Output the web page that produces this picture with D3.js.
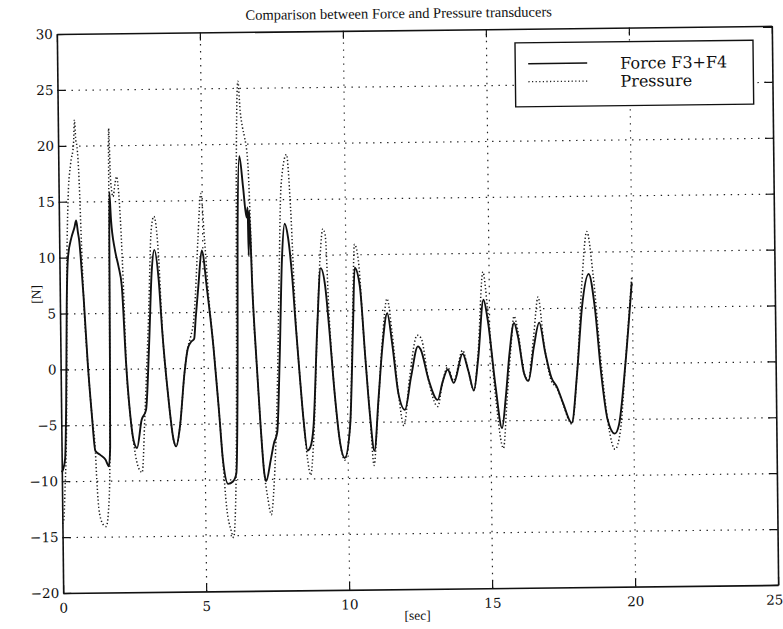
<!DOCTYPE html>
<html>
<head>
<meta charset="utf-8">
<script src="https://cdn.jsdelivr.net/npm/d3@7"></script>
<style>
  body { margin: 0; background: #fff; }
  svg { display: block; }
</style>
</head>
<body>
<div id="canvas"></div>
<script>
// tick values
var xTicks = [0, 5, 10, 15, 20, 25];
var yTicks = [-20, -15, -10, -5, 0, 5, 10, 15, 20, 25, 30];

// Force F3+F4 (solid)
var forceT = [0.00,0.05,0.12,0.18,0.24,0.30,0.43,0.54,0.60,0.66,0.70,0.74,0.83,0.95,1.07,1.18,1.36,1.53,1.65,1.70,1.74,1.77,1.82,1.94,2.06,2.17,2.29,2.41,2.52,2.64,2.81,2.97,3.10,3.22,3.32,3.46,3.57,3.75,3.92,4.01,4.15,4.33,4.45,4.56,4.68,4.74,4.85,4.98,5.15,5.35,5.52,5.64,5.81,5.98,6.10,6.19,6.24,6.33,6.45,6.56,6.60,6.62,6.65,6.74,6.85,6.97,7.08,7.14,7.31,7.43,7.55,7.66,7.78,7.89,8.00,8.13,8.24,8.36,8.47,8.60,8.70,8.82,8.99,9.13,9.28,9.40,9.57,9.74,9.90,10.10,10.24,10.32,10.49,10.66,10.80,10.94,11.10,11.25,11.44,11.60,11.80,12.02,12.25,12.50,12.60,12.85,13.17,13.35,13.53,13.74,14.06,14.25,14.44,14.60,14.81,14.95,15.20,15.41,15.55,15.70,15.87,16.00,16.20,16.35,16.55,16.75,16.95,17.15,17.35,17.55,17.85,18.05,18.25,18.50,18.70,18.90,19.10,19.35,19.50,19.75,20.00];
var forceN = [-9.2,-8.9,-8,-3,6,10,11.8,12.7,13.3,12.2,11.5,10.2,6.5,0.5,-4,-7.3,-7.7,-8.1,-8.7,-7,6,15.8,13.3,10.7,9.2,7.4,0.5,-4,-6.4,-7.1,-4.6,-3.7,2,8.6,10.6,8,3.2,-2.5,-6.4,-7,-5.2,-0.4,1.7,2.3,2.6,4.4,7.4,10.5,7,1.9,-3.9,-8.3,-10.4,-10.2,-9.5,0.6,12,18.9,16.1,13.4,14.3,10,14,6.6,0.6,-5.3,-9.5,-10.2,-8.3,-6.8,-5.8,0.6,9.6,12.8,11.6,8.1,3.6,-0.9,-4.7,-7.5,-7.2,-5.3,3.6,8.8,7.2,3.6,-2.4,-6.8,-8.2,-5.3,3.6,8.8,7.2,0.6,-4.5,-7.6,-3,1.5,4.7,2,-2.5,-3.95,-1,1.7,1.4,-1.2,-3.1,-1.5,-0.4,-1.6,1.0,-0.5,-2.3,0.5,5.8,4,-2,-5.7,-3,1,3.7,2.5,-0.8,-1.5,1.5,3.7,1,-1.2,-2.1,-3.5,-5.3,-1,5,8.0,5,-1,-5,-6.3,-5.5,0,7.2];

// Pressure (dotted)
var pressT = [0.00,0.05,0.10,0.19,0.25,0.33,0.43,0.54,0.58,0.62,0.66,0.72,0.78,0.83,0.95,1.07,1.18,1.22,1.30,1.45,1.53,1.65,1.71,1.74,1.77,1.82,1.90,1.97,2.03,2.12,2.22,2.29,2.41,2.52,2.65,2.81,2.93,3.10,3.22,3.32,3.46,3.57,3.75,3.92,4.01,4.15,4.33,4.45,4.56,4.68,4.74,4.85,4.97,5.08,5.20,5.35,5.52,5.64,5.75,5.90,5.98,6.08,6.15,6.22,6.31,6.38,6.45,6.52,6.62,6.68,6.74,6.85,6.97,7.08,7.18,7.31,7.40,7.50,7.58,7.66,7.78,7.98,8.10,8.24,8.36,8.47,8.60,8.70,8.82,8.99,9.12,9.22,9.30,9.40,9.57,9.74,9.90,10.10,10.24,10.32,10.45,10.60,10.80,10.92,11.05,11.25,11.44,11.60,11.80,11.98,12.20,12.48,12.62,12.85,13.17,13.35,13.53,13.74,14.06,14.25,14.44,14.60,14.80,14.95,15.20,15.45,15.60,15.75,15.87,16.00,16.20,16.35,16.55,16.72,16.90,17.15,17.35,17.55,17.85,18.05,18.25,18.45,18.65,18.90,19.10,19.35,19.55,19.75,20.00];
var pressN = [-13.8,-13.5,-11,-4,8,15.4,18.4,20.2,22.3,20.5,19.9,16.9,10.9,6.5,0.5,-4,-7.3,-9.9,-12.9,-14,-14.1,-11.4,-2.8,9,21.5,16.9,15.4,16.5,17.2,14.8,8,0.8,-4,-6.6,-8.6,-9.3,-4,5,12.4,13.6,10.4,3.5,-2.5,-6.4,-7,-5.2,-0.4,1.8,2.8,4.5,6.5,11.5,15.6,11.5,6.5,1.9,-3.9,-8.5,-12.5,-14.6,-15.2,-11,0,17.7,25.6,22.9,21.5,20.6,18.5,14,6.8,0.6,-5.3,-9.5,-11.5,-13.2,-11.2,-6.5,-1,6.6,16.3,19,14.3,4,-0.9,-4.7,-8.3,-9.7,-6.5,3.6,10,12.3,11.8,5,-2.4,-6.8,-8.4,-5.3,5.5,10.9,9.5,3,-4.5,-8.9,-5,2,6,3,-2.5,-5.4,-1,2.7,2.4,-1.2,-3.7,-1.5,-0.2,-1.4,1.3,-0.5,-2.3,1,8.3,5,-3,-7.5,-3,1.5,4.3,3,-0.8,-1.4,2.5,6.0,2,-1.5,-2.2,-3.6,-5.4,-1,7,11.8,8,0,-5,-7.7,-6,0,7.6];

var legendNames = ["Force F3+F4", "Pressure"];

var W = 783, H = 629;
var margin = {left: 60, right: 8, top: 30, bottom: 40};
var width = 775 - margin.left;
var height = 589 - margin.top;

var svg = d3.select("#canvas").append("svg")
  .attr("width", W)
  .attr("height", H);

// the scan is tilted a little
var root = svg.append("g")
  .attr("transform", "rotate(-0.65, 417.5, 309.5)");

var g = root.append("g")
  .attr("transform", "translate(" + margin.left + ", " + margin.top + ")");

var x = d3.scaleLinear().domain([0, 25]).range([0, width]);
var y = d3.scaleLinear().domain([-20, 30]).range([height, 0]);

// dotted grid
g.append("g")
  .attr("class", "grid")
  .attr("transform", "translate(0, " + height + ")")
  .call(d3.axisBottom(x).tickValues(xTicks.slice(1, -1)).tickSize(-height).tickFormat(""))
  .call(s => s.select(".domain").remove());
g.append("g")
  .attr("class", "grid")
  .call(d3.axisLeft(y).tickValues(yTicks.slice(1, -1)).tickSize(-width).tickFormat(""))
  .call(s => s.select(".domain").remove());
g.selectAll(".grid line")
  .attr("stroke", "#222")
  .attr("stroke-width", 1.2)
  .attr("stroke-dasharray", "1.4,5.6");

// series
var line = d3.line()
  .x((d) => { return x(d[0]); })
  .y((d) => { return y(d[1]); })
  .curve(d3.curveMonotoneX);

var pressData = pressT.map((t, i) => { return [t, pressN[i]]; });
var forceData = forceT.map((t, i) => { return [t, forceN[i]]; });

g.append("path")
  .attr("d", line(pressData))
  .attr("fill", "none")
  .attr("stroke", "#1a1a1a")
  .attr("stroke-width", 1.5)
  .attr("stroke-dasharray", "1.3,2.3");

g.append("path")
  .attr("d", line(forceData))
  .attr("fill", "none")
  .attr("stroke", "#111")
  .attr("stroke-width", 1.9);

// axes with inward ticks on all sides
var tickFont = "'DejaVu Serif', serif";
var bottomAxis = d3.axisBottom(x).tickValues(xTicks).tickSizeInner(-8).tickSizeOuter(0).tickPadding(12);
var leftAxis = d3.axisLeft(y).tickValues(yTicks).tickSizeInner(-8).tickSizeOuter(0).tickPadding(12);

g.append("g")
  .attr("class", "x axis")
  .attr("transform", "translate(0, " + height + ")")
  .call(bottomAxis);
g.append("g")
  .attr("class", "left axis")
  .call(leftAxis);
g.append("g")
  .attr("class", "top axis")
  .call(d3.axisTop(x).tickValues(xTicks).tickSizeInner(-8).tickSizeOuter(0).tickFormat(""));
g.append("g")
  .attr("class", "right axis")
  .attr("transform", "translate(" + width + ", 0)")
  .call(d3.axisRight(y).tickValues(yTicks).tickSizeInner(-8).tickSizeOuter(0).tickFormat(""));

g.selectAll(".axis .domain").attr("stroke", "#111").attr("stroke-width", 1.6);
g.selectAll(".axis .tick line").attr("stroke", "#111").attr("stroke-width", 1.2);
g.selectAll(".axis text")
  .attr("font-family", tickFont)
  .attr("font-size", "13.5px")
  .attr("fill", "#111");
g.selectAll(".left.axis text").attr("x", -4);
g.selectAll(".x.axis text")
  .attr("y", 10)
  .attr("x", (d) => { return d === 25 ? -4 : 0; });

// legend
var leg = root.append("g").attr("class", "legend");
leg.append("rect")
  .attr("x", 518).attr("y", 44)
  .attr("width", 238).attr("height", 64)
  .attr("fill", "#fff")
  .attr("stroke", "#111")
  .attr("stroke-width", 1.4);
leg.append("line")
  .attr("x1", 531).attr("x2", 590).attr("y1", 65).attr("y2", 65)
  .attr("stroke", "#111").attr("stroke-width", 1.6);
leg.append("line")
  .attr("x1", 531).attr("x2", 590).attr("y1", 83).attr("y2", 83)
  .attr("stroke", "#222").attr("stroke-width", 1.3)
  .attr("stroke-dasharray", "1.2,2.4");
leg.selectAll("text.leg").data(legendNames).enter()
  .append("text")
  .attr("class", "leg")
  .attr("x", 623)
  .attr("y", (d, i) => { return 71 + i * 18; })
  .attr("font-family", tickFont)
  .attr("font-size", "16px")
  .attr("fill", "#111")
  .text((d) => { return d; });

// title and axis labels
root.append("text")
  .attr("x", 402)
  .attr("y", 18)
  .attr("text-anchor", "middle")
  .attr("font-family", "'Liberation Serif', serif")
  .attr("font-size", "14.5px")
  .attr("fill", "#111")
  .text("Comparison between Force and Pressure transducers");

root.append("text")
  .attr("x", 414)
  .attr("y", 620)
  .attr("text-anchor", "middle")
  .attr("font-family", "'Liberation Serif', serif")
  .attr("font-size", "13.5px")
  .attr("fill", "#111")
  .text("[sec]");

root.append("text")
  .attr("transform", "translate(41, 290) rotate(-90)")
  .attr("text-anchor", "middle")
  .attr("font-family", "'Liberation Serif', serif")
  .attr("font-size", "13.5px")
  .attr("fill", "#111")
  .text("[N]");
</script>
</body>
</html>
